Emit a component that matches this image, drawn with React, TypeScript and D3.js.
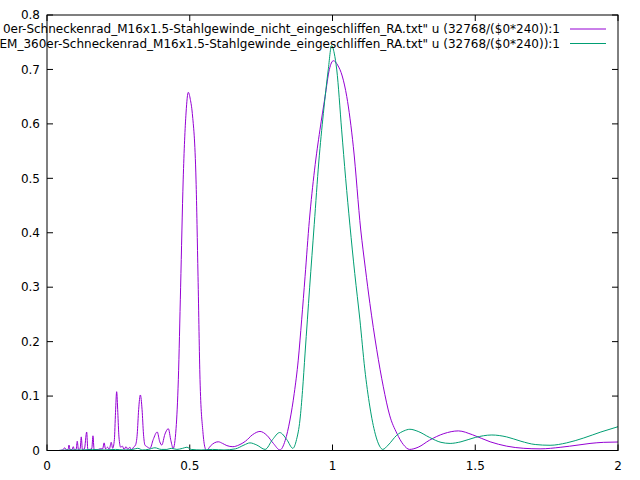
import * as d3 from 'd3'

// spectrum, "nicht eingeschliffen" (purple)
const purpleX = [
  0.040, 0.055, 0.062, 0.068, 0.074, 0.077, 0.081, 0.088, 0.092, 0.096, 0.102, 0.106, 0.110,
  0.116, 0.120, 0.124, 0.131, 0.139, 0.143, 0.150, 0.157, 0.161, 0.165, 0.175, 0.185, 0.195,
  0.200, 0.205, 0.212, 0.218, 0.225, 0.230, 0.236, 0.240, 0.244, 0.248, 0.252, 0.258, 0.264,
  0.270, 0.277, 0.283, 0.290, 0.296, 0.303, 0.310, 0.316, 0.321, 0.327, 0.333, 0.338, 0.343,
  0.350, 0.361, 0.372, 0.386, 0.395, 0.402, 0.413, 0.425, 0.434, 0.442, 0.452, 0.460, 0.468,
  0.477, 0.487, 0.495, 0.502, 0.509, 0.522, 0.529, 0.536, 0.546, 0.553, 0.559, 0.572, 0.586,
  0.600, 0.615, 0.630, 0.651, 0.672, 0.695, 0.720, 0.746, 0.770, 0.793, 0.816, 0.834, 0.851,
  0.866, 0.880, 0.892, 0.904, 0.919, 0.937, 0.956, 0.974, 0.989, 1.003, 1.018, 1.034, 1.050,
  1.073, 1.099, 1.115, 1.131, 1.155, 1.178, 1.200, 1.225, 1.248, 1.270, 1.300, 1.340, 1.390,
  1.441, 1.490, 1.552, 1.610, 1.670, 1.727, 1.800, 1.860, 1.902, 1.950, 2.000,
]
const purpleY = [
  0.000, 0.001, 0.005, 0.001, 0.002, 0.010, 0.001, 0.002, 0.007, 0.001, 0.002, 0.017, 0.002,
  0.003, 0.025, 0.002, 0.003, 0.034, 0.002, 0.002, 0.004, 0.027, 0.002, 0.001, 0.003, 0.003,
  0.014, 0.003, 0.006, 0.002, 0.015, 0.004, 0.020, 0.070, 0.108, 0.070, 0.025, 0.006, 0.008,
  0.002, 0.007, 0.002, 0.006, 0.001, 0.006, 0.010, 0.030, 0.075, 0.102, 0.075, 0.030, 0.010,
  0.007, 0.004, 0.020, 0.034, 0.016, 0.010, 0.030, 0.040, 0.018, 0.004, 0.040, 0.130, 0.300,
  0.497, 0.620, 0.658, 0.645, 0.619, 0.497, 0.320, 0.130, 0.035, 0.006, 0.000, 0.008, 0.014,
  0.016, 0.013, 0.009, 0.007, 0.010, 0.017, 0.029, 0.035, 0.028, 0.013, 0.001, 0.018, 0.056,
  0.105, 0.166, 0.240, 0.320, 0.423, 0.515, 0.589, 0.650, 0.700, 0.716, 0.708, 0.688, 0.650,
  0.558, 0.405, 0.335, 0.270, 0.185, 0.117, 0.065, 0.032, 0.011, 0.002, 0.006, 0.019, 0.031,
  0.036, 0.029, 0.016, 0.008, 0.004, 0.003, 0.006, 0.010, 0.013, 0.015, 0.0156,
]

// spectrum, "eingeschliffen" (green)
const greenX = [
  0.040, 0.080, 0.120, 0.160, 0.200, 0.240, 0.270, 0.300, 0.318, 0.335, 0.355, 0.378, 0.400,
  0.420, 0.435, 0.455, 0.475, 0.490, 0.505, 0.540, 0.580, 0.620, 0.660, 0.690, 0.711, 0.735,
  0.764, 0.790, 0.815, 0.840, 0.861, 0.874, 0.886, 0.895, 0.904, 0.920, 0.936, 0.952, 0.968,
  0.985, 0.997, 1.006, 1.015, 1.032, 1.046, 1.061, 1.078, 1.096, 1.113, 1.131, 1.150, 1.165,
  1.176, 1.195, 1.225, 1.250, 1.271, 1.300, 1.340, 1.380, 1.412, 1.450, 1.500, 1.558, 1.610,
  1.660, 1.710, 1.762, 1.820, 1.880, 1.940, 2.000,
]
const greenY = [
  0.000, 0.001, 0.001, 0.002, 0.001, 0.002, 0.001, 0.002, 0.004, 0.001, 0.002, 0.005, 0.002,
  0.002, 0.004, 0.002, 0.004, 0.006, 0.002, 0.001, 0.002, 0.001, 0.003, 0.010, 0.014, 0.010,
  0.002, 0.020, 0.033, 0.020, 0.004, 0.020, 0.056, 0.110, 0.179, 0.300, 0.415, 0.530, 0.619,
  0.699, 0.744, 0.730, 0.699, 0.589, 0.500, 0.414, 0.325, 0.240, 0.150, 0.080, 0.030, 0.008,
  0.002, 0.010, 0.028, 0.036, 0.039, 0.035, 0.024, 0.015, 0.013, 0.016, 0.024, 0.0285, 0.025,
  0.017, 0.011, 0.0096, 0.014, 0.023, 0.034, 0.0437,
]

const xTicks = [0, 0.5, 1, 1.5, 2]
const yTicks = [0, 0.1, 0.2, 0.3, 0.4, 0.5, 0.6, 0.7, 0.8]
const legendLabels = [
  '0er-Schneckenrad_M16x1.5-Stahlgewinde_nicht_eingeschliffen_RA.txt" u (32768/($0*240)):1',
  'EM_360er-Schneckenrad_M16x1.5-Stahlgewinde_eingeschliffen_RA.txt" u (32768/($0*240)):1',
]
const colors = ['#9400d3', '#009e73']

const W = 640
const H = 480
const left = 47
const right = 618
const top = 15
const bottom = 450.5

export default function App() {
  const x = d3.scaleLinear().domain([0, 2]).range([left, right])
  const y = d3.scaleLinear().domain([0, 0.8]).range([bottom, top])
  const line = d3
    .line<number>()
    .x(d => d)
    .y(d => d)
    .curve(d3.curveMonotoneX)

  const path = (xs: number[], ys: number[]) =>
    line.x((_, i) => x(xs[i])).y((_, i) => y(ys[i]))(xs) ?? ''

  const series = [
    { xs: purpleX, ys: purpleY },
    { xs: greenX, ys: greenY },
  ]
  const font = { fontFamily: 'DejaVu Sans', fontSize: 12 }

  return (
    <svg
      width={W}
      height={H}
      style={{ position: 'absolute', left: 0, top: 0, background: '#fff' }}
    >
      <defs>
        <clipPath id="plot">
          <rect x={left} y={top} width={right - left} height={bottom - top} />
        </clipPath>
      </defs>

      {/* ticks, mirrored on all four sides */}
      {yTicks.map(t => (
        <g key={'y' + t}>
          <line x1={left} x2={left + 6} y1={y(t)} y2={y(t)} stroke="#000" />
          <line x1={right - 6} x2={right} y1={y(t)} y2={y(t)} stroke="#000" />
          <text x={40} y={y(t)} dy="0.35em" textAnchor="end" {...font}>
            {t}
          </text>
        </g>
      ))}
      {xTicks.map(t => (
        <g key={'x' + t}>
          <line x1={x(t)} x2={x(t)} y1={bottom} y2={bottom - 6} stroke="#000" />
          <line x1={x(t)} x2={x(t)} y1={top} y2={top + 6} stroke="#000" />
          <text x={x(t)} y={470} textAnchor="middle" {...font}>
            {t}
          </text>
        </g>
      ))}

      <g clipPath="url(#plot)">
        {series.map((s, i) => (
          <path key={i} d={path(s.xs, s.ys)} fill="none" stroke={colors[i]} strokeWidth={1} />
        ))}
      </g>

      {/* key */}
      {legendLabels.map((label, i) => (
        <g key={label}>
          <text x={560} y={29 + i * 14.5} dy="0.35em" textAnchor="end" {...font}>
            {label}
          </text>
          <line x1={570} x2={606} y1={29 + i * 14.5} y2={29 + i * 14.5} stroke={colors[i]} />
        </g>
      ))}

      <rect
        x={left}
        y={top}
        width={right - left}
        height={bottom - top}
        fill="none"
        stroke="#000"
      />
    </svg>
  )
}
